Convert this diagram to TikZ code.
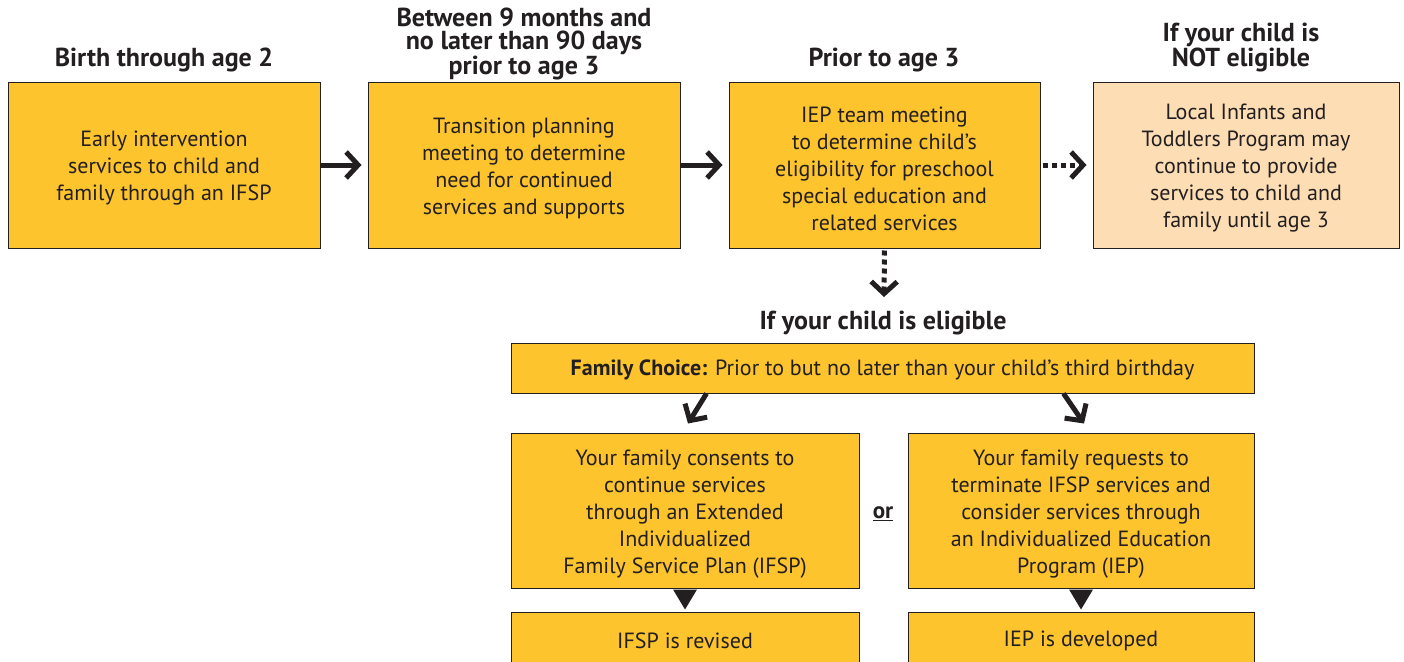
\documentclass[tikz,border=0pt]{standalone}
\usepackage{fontspec}
\setmainfont{PT Sans}
\usetikzlibrary{arrows.meta,calc}
\definecolor{gold}{RGB}{253,196,45}
\definecolor{peach}{RGB}{253,221,180}
\definecolor{ink}{RGB}{35,31,32}
\begin{document}
\begin{tikzpicture}[x=1pt,y=-1pt,
  box/.style={draw=ink, line width=1pt, fill=gold, inner sep=0pt},
  txt/.style={align=center, text=ink, font=\fontsize{22}{27}\selectfont, inner sep=0pt},
  head/.style={font=\bfseries\fontsize{26}{23.5}\selectfont, text=ink, align=center},
  arr/.style={draw=ink, line width=5pt, -{Straight Barb[length=12pt,width=26pt]}},
  dotarr/.style={arr, dash pattern=on 5pt off 4pt},
  tri/.style={fill=ink}]
\useasboundingbox (0,0) rectangle (1404,661);

\node[box, minimum width=312pt, minimum height=166pt] (b1) at (164,165) {};
\node[box, minimum width=312pt, minimum height=166pt] (b2) at (524,165) {};
\node[box, minimum width=311pt, minimum height=166pt] (b3) at (884.5,165) {};
\node[box, fill=peach, minimum width=306pt, minimum height=166pt] (b4) at (1246,165) {};
\node[box, minimum width=743pt, minimum height=50pt] (fc) at (882.5,368) {};
\node[box, minimum width=348pt, minimum height=155pt] (b5) at (685,510.5) {};
\node[box, minimum width=346pt, minimum height=155pt] (b6) at (1081,510.5) {};
\node[box, minimum width=348pt, minimum height=54pt] (b7) at (685,639) {};
\node[box, minimum width=346pt, minimum height=54pt] (b8) at (1081,639) {};

\node[txt] (t1) at ([yshift=-3.5pt]b1.center)
  {Early intervention\\services to child and\\family through an IFSP};
\node[txt] (t2) at ([yshift=-3.5pt]b2.center)
  {Transition planning\\meeting to determine\\need for continued\\services and supports};
\node[txt] (t3) at ([yshift=-3.5pt]b3.center)
  {IEP team meeting\\to determine child’s\\eligibility for preschool\\special education and\\related services};
\node[txt] (t4) at ([yshift=-3.5pt]b4.center)
  {Local Infants and\\Toddlers Program may\\continue to provide\\services to child and\\family until age 3};
\node[txt] (tfc) at ([yshift=-2pt]fc.center)
  {\textbf{Family Choice:} Prior to but no later than your child’s third birthday};
\node[txt] (t5) at ([yshift=-4pt]b5.center)
  {Your family consents to\\continue services\\through an Extended\\Individualized\\Family Service Plan (IFSP)};
\node[txt] (t6) at ([yshift=-4pt]b6.center)
  {Your family requests to\\terminate IFSP services and\\consider services through\\an Individualized Education\\Program (IEP)};
\node[txt] (t7) at ([yshift=-1.5pt]b7.center) {IFSP is revised};
\node[txt] (t8) at ([yshift=-1.5pt]b8.center) {IEP is developed};
\node[head, font=\bfseries\fontsize{23}{24}\selectfont] (or) at (883,514) {\underline{or}};

\node[head] (h1) at (164,60) {Birth through age 2};
\node[head] (h2) at (524,44) {Between 9 months and\\no later than 90 days\\prior to age 3};
\node[head] (h3) at (884,60) {Prior to age 3};
\node[head] (h4) at (1241,47.5) {If your child is\\NOT eligible};
\node[head] (h5) at (883,323) {If your child is eligible};
\coordinate (dn) at (884,297);

\draw[arr, shorten >=6pt] (b1.east) -- (b2.west);
\draw[arr, shorten >=6pt] (b2.east) -- (b3.west);
\draw[dotarr, shorten <=2pt, shorten >=6pt] (b3.east) -- (b4.west);
\draw[dotarr, shorten <=2pt] (b3.south) -- (dn);

\draw[arr] ([xshift=196pt]fc.south west) -- ([xshift=3pt,yshift=9pt]b5.north);
\draw[arr] ([xshift=-191pt]fc.south east) -- ([xshift=3pt,yshift=9pt]b6.north);

\fill[tri] ($(b5.south)+(-12,1)$) -- ($(b5.south)+(12,1)$) -- ($(b5.south)+(0,21)$) -- cycle;
\fill[tri] ($(b6.south)+(-12,1)$) -- ($(b6.south)+(12,1)$) -- ($(b6.south)+(0,21)$) -- cycle;
\end{tikzpicture}
\end{document}
